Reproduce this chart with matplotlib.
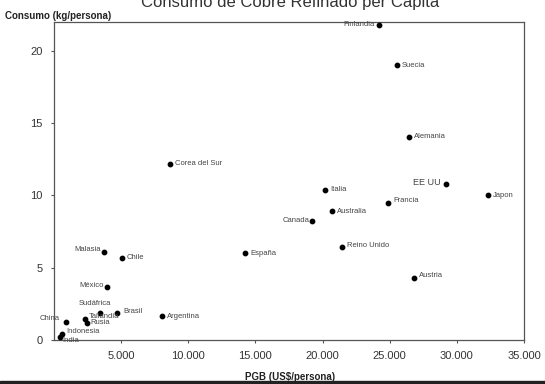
import matplotlib.pyplot as plt
from matplotlib.patches import Rectangle

plt.rcParams['font.family'] = ['Liberation Sans', 'DejaVu Sans']

# Datos: PGB (US$/persona) y consumo de cobre refinado (kg/persona)
paises = ["Finlandia", "Suecia", "Alemania", "Corea del Sur", "Italia", "EE UU",
          "Japon", "Francia", "Australia", "Canada", "Reino Unido", "Austria",
          "España", "Malasia", "Chile", "México", "Sudáfrica", "Tailandia",
          "Brasil", "Rusia", "China", "Indonesia", "India", "Argentina"]
pgb = [24200, 25550, 26450, 8640, 20190, 29200,
       32330, 24880, 20710, 19220, 21450, 26800,
       14230, 3730, 5070, 3950, 3430, 2300,
       4700, 2450, 890, 600, 450, 8050]
consumo = [21.8, 19.0, 14.05, 12.2, 10.4, 10.8,
           10.0, 9.5, 8.9, 8.2, 6.4, 4.3,
           6.0, 6.1, 5.7, 3.7, 1.9, 1.45,
           1.85, 1.2, 1.25, 0.4, 0.2, 1.65]

# Posición de cada etiqueta respecto del punto (pixeles, alineación)
offsets = {
    "Finlandia": (-4, 0, "right"), "EE UU": (-5, 1, "right"),
    "Canada": (-3, 1, "right"), "Malasia": (-3, 2, "right"),
    "México": (-3, 1, "right"), "China": (-6, 3, "right"),
    "Sudáfrica": (-5, 9, "center"), "Tailandia": (4, 3, "left"),
    "Brasil": (6, 2, "left"), "Rusia": (3, 0, "left"),
    "Indonesia": (4, 3, "left"), "India": (2, -3, "left"),
    "Francia": (5, 2, "left"), "Reino Unido": (5, 2, "left"),
    "Austria": (5, 2, "left"),
}

fig = plt.figure(figsize=(5.45, 3.84), dpi=100)
ax = fig.add_axes([54 / 545, 44 / 384, 470 / 545, 318 / 384])

ax.scatter(pgb, consumo, s=10, color='black', zorder=3)

for nombre, x, y in zip(paises, pgb, consumo):
    dx, dy, ha = offsets.get(nombre, (5, 0, "left"))
    fs = 6.5 if nombre == "EE UU" else 5.5
    ax.annotate(nombre, (x, y), xytext=(dx, dy), textcoords='offset pixels',
                ha=ha, va='center', fontsize=fs, color='#444444')

ax.set_xlim(0, 35000)
ax.set_ylim(0, 22)
ax.set_xticks([5000, 10000, 15000, 20000, 25000, 30000, 35000])
ax.set_xticklabels(["5.000", "10.000", "15.000", "20.000", "25.000", "30.000", "35.000"])
ax.set_yticks([0, 5, 10, 15, 20])
ax.tick_params(labelsize=8, labelcolor='#333333', length=2, color='#555555', pad=6)
for sp in ax.spines.values():
    sp.set_color('#555555')
    sp.set_linewidth(0.9)

fig.text(54 / 545 - 0.09, 1 - 16 / 384, "Consumo (kg/persona)", fontsize=7,
         fontweight='bold', color='#222222', va='center', ha='left')
fig.text(290 / 545, 1 - 377 / 384, "PGB (US$/persona)", fontsize=7,
         fontweight='bold', color='#222222', va='center', ha='center')
fig.text(290 / 545, 1 - 2 / 384, "Consumo de Cobre Refinado per Cápita",
         fontsize=12, color='#333333', va='center', ha='center')

# franja oscura del escaneo original
fig.patches.append(Rectangle((0, 0), 1, 3 / 384, transform=fig.transFigure,
                             color='#222222', zorder=0))

fig.savefig("out.png", dpi=100)
